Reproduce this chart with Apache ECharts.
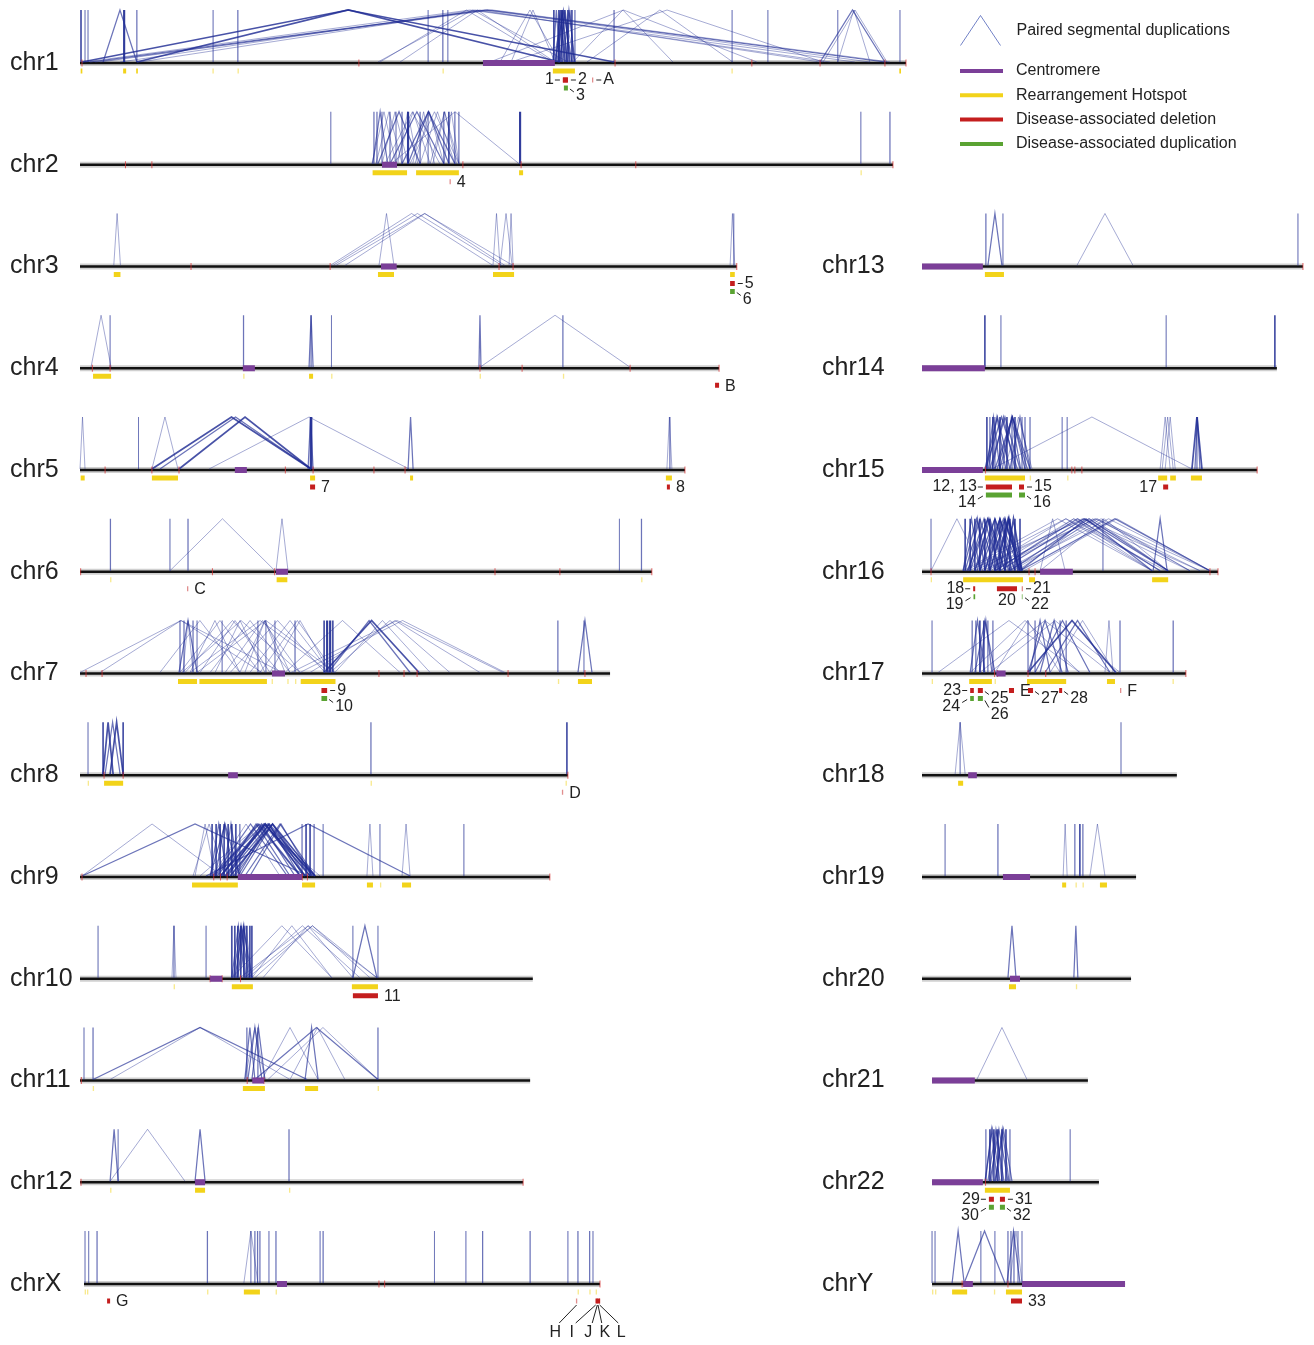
<!DOCTYPE html>
<html>
<head>
<meta charset="utf-8">
<title>Segmental duplications and rearrangement hotspots</title>
<script src="https://cdn.jsdelivr.net/npm/echarts@6/dist/echarts.min.js"></script>
<style>
  html, body { margin: 0; padding: 0; background: #fff; }
  #chart { width: 1314px; height: 1345px; }
</style>
</head>
<body>
<div id="chart"></div>
<script>
// chromosome layout, in Mb
const leftColumn = ['chr1', 'chr2', 'chr3', 'chr4', 'chr5', 'chr6', 'chr7', 'chr8', 'chr9', 'chr10', 'chr11', 'chr12', 'chrX'];
const rightColumn = ['chr13', 'chr14', 'chr15', 'chr16', 'chr17', 'chr18', 'chr19', 'chr20', 'chr21', 'chr22', 'chrY'];

const chromExtent = [
  ['chr1', 0, 247.0], ['chr2', 0, 243.1], ['chr3', 0, 196.4], ['chr4', 0, 191.1], ['chr5', 0, 180.9],
  ['chr6', 0, 171.0], ['chr7', 0, 158.5], ['chr8', 0, 145.9], ['chr9', 0, 140.5], ['chr10', 0, 135.4],
  ['chr11', 0, 134.6], ['chr12', 0, 132.5], ['chrX', 1.2, 155.5],
  ['chr13', 0, 113.9], ['chr14', 0, 106.1], ['chr15', 0, 100.2], ['chr16', 0, 88.5], ['chr17', 0, 78.9],
  ['chr18', 0, 76.2], ['chr19', 0, 64.0], ['chr20', 0, 62.5], ['chr21', 3.0, 49.6], ['chr22', 3.0, 52.9],
  ['chrY', 3.0, 60.7]
];

// [chrom, start, end, number of pairs drawn on top of each other]
const sdPairs = [
  ['chr1', 0.3, 0.3, 3], ['chr1', 1.5, 1.5, 1], ['chr1', 2.4, 2.4, 1], ['chr1', 13.2, 13.2, 4], ['chr1', 17.0, 17.0, 2],
  ['chr1', 39.8, 39.8, 1], ['chr1', 47.2, 47.2, 2], ['chr1', 104.1, 104.1, 1], ['chr1', 108.5, 108.5, 2], ['chr1', 110.0, 110.0, 1],
  ['chr1', 159.7, 159.7, 2], ['chr1', 195.0, 195.0, 1], ['chr1', 205.7, 205.7, 1], ['chr1', 226.6, 226.6, 1], ['chr1', 245.2, 245.2, 1],
  ['chr1', 6.9, 17.0, 2], ['chr1', 0.6, 159.7, 3], ['chr1', 17.0, 143.5, 3], ['chr1', 1.5, 231.7, 1], ['chr1', 3.0, 240.7, 2],
  ['chr1', 4.5, 242.2, 1], ['chr1', 6.0, 236.2, 1], ['chr1', 12.0, 224.3, 1], ['chr1', 17.9, 221.3, 1], ['chr1', 89.1, 145.9, 1],
  ['chr1', 125.6, 143.5, 1], ['chr1', 128.9, 142.0, 1], ['chr1', 95.7, 142.0, 1], ['chr1', 89.7, 141.4, 1], ['chr1', 122.6, 202.4, 1],
  ['chr1', 128.9, 222.2, 1], ['chr1', 147.4, 177.3, 1], ['chr1', 151.6, 195.2, 1], ['chr1', 221.3, 240.7, 2], ['chr1', 222.2, 241.3, 1],
  ['chr1', 226.6, 236.2, 1], ['chr1', 141.4, 143.5, 2], ['chr1', 142.3, 145.0, 3], ['chr1', 143.5, 146.5, 3], ['chr1', 144.4, 148.0, 2],
  ['chr1', 142.0, 147.1, 2], ['chr1', 142.9, 145.6, 3], ['chr1', 145.3, 147.7, 2], ['chr1', 141.4, 148.0, 1], ['chr1', 141.7, 141.7, 3],
  ['chr1', 143.2, 143.2, 3], ['chr1', 144.1, 144.1, 3], ['chr1', 145.9, 145.9, 3], ['chr1', 147.1, 147.1, 3], ['chr1', 148.0, 148.0, 2],

  ['chr2', 87.9, 87.9, 2], ['chr2', 88.8, 88.8, 2], ['chr2', 90.3, 90.3, 1], ['chr2', 92.7, 92.7, 2], ['chr2', 94.5, 94.5, 1],
  ['chr2', 96.3, 96.3, 2], ['chr2', 98.1, 98.1, 4], ['chr2', 101.7, 101.7, 2], ['chr2', 104.1, 104.1, 1], ['chr2', 108.8, 108.8, 2],
  ['chr2', 110.3, 110.3, 3], ['chr2', 112.1, 112.1, 2], ['chr2', 113.3, 113.3, 2], ['chr2', 75.0, 75.0, 1], ['chr2', 131.6, 131.6, 4],
  ['chr2', 233.5, 233.5, 1], ['chr2', 242.2, 242.2, 2], ['chr2', 87.3, 94.5, 1], ['chr2', 89.1, 101.7, 2], ['chr2', 90.3, 98.1, 1],
  ['chr2', 92.7, 108.8, 2], ['chr2', 94.5, 104.7, 1], ['chr2', 96.3, 112.1, 2], ['chr2', 98.1, 110.3, 2], ['chr2', 98.7, 113.3, 1],
  ['chr2', 91.2, 107.6, 1], ['chr2', 101.7, 112.1, 1], ['chr2', 100.2, 108.8, 1], ['chr2', 104.7, 113.3, 1], ['chr2', 93.0, 131.3, 1],
  ['chr2', 88.5, 96.3, 1], ['chr2', 108.8, 113.3, 1], ['chr2', 87.5, 92.0, 2], ['chr2', 95.0, 101.0, 1], ['chr2', 99.5, 106.0, 1],
  ['chr2', 105.5, 112.6, 1],

  ['chr3', 10.1, 12.1, 1], ['chr3', 74.8, 123.5, 1], ['chr3', 75.6, 126.2, 1], ['chr3', 76.5, 129.5, 1], ['chr3', 79.2, 127.1, 1],
  ['chr3', 89.4, 93.9, 1], ['chr3', 123.5, 125.6, 1], ['chr3', 125.6, 129.2, 1], ['chr3', 128.3, 129.5, 1], ['chr3', 194.4, 195.8, 1],
  ['chr3', 195.5, 195.5, 1],

  ['chr4', 3.3, 9.3, 1], ['chr4', 9.0, 9.0, 1], ['chr4', 48.9, 48.9, 2], ['chr4', 68.5, 69.7, 2], ['chr4', 69.1, 69.1, 2],
  ['chr4', 75.2, 75.2, 1], ['chr4', 119.3, 119.9, 2], ['chr4', 119.6, 164.5, 1], ['chr4', 144.4, 144.4, 2],

  ['chr5', 0, 1.5, 1], ['chr5', 17.5, 17.5, 1], ['chr5', 21.5, 29.3, 1], ['chr5', 21.5, 69.1, 3], ['chr5', 29.6, 69.1, 3],
  ['chr5', 23.9, 69.1, 2], ['chr5', 38.6, 98.4, 1], ['chr5', 69.1, 69.1, 5], ['chr5', 68.2, 69.7, 2], ['chr5', 98.1, 99.6, 2],
  ['chr5', 175.5, 177.0, 1], ['chr5', 176.4, 176.4, 2],

  ['chr6', 9.1, 9.1, 2], ['chr6', 26.9, 26.9, 1], ['chr6', 32.3, 32.3, 2], ['chr6', 26.9, 58.3, 1], ['chr6', 58.6, 62.2, 1],
  ['chr6', 161.3, 161.3, 1], ['chr6', 167.9, 167.9, 2],

  ['chr7', 0, 60.4, 1], ['chr7', 6.0, 54.4, 1], ['chr7', 30.5, 65.8, 1], ['chr7', 31.4, 59.8, 1], ['chr7', 32.9, 74.8, 1],
  ['chr7', 35.0, 76.2, 1], ['chr7', 38.9, 62.8, 1], ['chr7', 44.9, 73.3, 1], ['chr7', 50.8, 74.8, 1], ['chr7', 35.9, 56.8, 1],
  ['chr7', 53.8, 76.2, 1], ['chr7', 29.9, 53.8, 1], ['chr7', 56.8, 74.8, 1], ['chr7', 61.3, 95.7, 1], ['chr7', 63.1, 126.5, 1],
  ['chr7', 65.8, 127.1, 1], ['chr7', 73.0, 101.4, 3], ['chr7', 74.2, 98.7, 2], ['chr7', 76.2, 104.7, 1], ['chr7', 74.8, 110.6, 1],
  ['chr7', 68.8, 119.6, 1], ['chr7', 32.9, 47.8, 1], ['chr7', 47.8, 62.8, 1], ['chr7', 29.6, 35.0, 2], ['chr7', 30.8, 33.8, 1],
  ['chr7', 40.4, 55.3, 1], ['chr7', 43.4, 65.8, 1], ['chr7', 49.3, 61.3, 1], ['chr7', 23.9, 47.8, 1], ['chr7', 29.9, 29.9, 2],
  ['chr7', 31.1, 31.1, 2], ['chr7', 33.8, 33.8, 2], ['chr7', 35.0, 35.0, 1], ['chr7', 42.5, 42.5, 1], ['chr7', 53.2, 53.2, 1],
  ['chr7', 55.6, 55.6, 1], ['chr7', 58.3, 58.3, 1], ['chr7', 64.3, 64.3, 2], ['chr7', 73.0, 73.0, 3], ['chr7', 73.9, 73.9, 4],
  ['chr7', 74.8, 74.8, 4], ['chr7', 75.6, 75.6, 3], ['chr7', 142.9, 142.9, 2], ['chr7', 150.7, 150.7, 1], ['chr7', 148.9, 153.1, 2],

  ['chr8', 2.4, 2.4, 1], ['chr8', 6.9, 9.9, 3], ['chr8', 9.0, 12.9, 3], ['chr8', 7.5, 12.0, 2], ['chr8', 6.9, 6.9, 3],
  ['chr8', 12.9, 12.9, 3], ['chr8', 87.0, 87.0, 2], ['chr8', 145.6, 145.6, 3],

  ['chr9', 0.6, 42.5, 1], ['chr9', 0.6, 68.2, 2], ['chr9', 33.8, 43.4, 1], ['chr9', 34.4, 40.4, 1], ['chr9', 39.5, 39.5, 3],
  ['chr9', 40.7, 40.7, 3], ['chr9', 41.9, 41.9, 3], ['chr9', 43.1, 43.1, 3], ['chr9', 44.3, 44.3, 3], ['chr9', 45.4, 45.4, 3],
  ['chr9', 46.6, 46.6, 3], ['chr9', 47.8, 47.8, 2], ['chr9', 39.5, 70.3, 2], ['chr9', 40.4, 65.8, 2], ['chr9', 41.9, 68.8, 3],
  ['chr9', 43.4, 67.3, 3], ['chr9', 44.9, 70.3, 3], ['chr9', 47.2, 65.8, 2], ['chr9', 42.5, 62.8, 2], ['chr9', 46.3, 68.8, 2],
  ['chr9', 49.3, 70.3, 2], ['chr9', 39.5, 59.8, 1], ['chr9', 47.8, 67.3, 2], ['chr9', 50.8, 69.4, 2], ['chr9', 38.9, 47.8, 2],
  ['chr9', 44.3, 64.3, 2], ['chr9', 66.4, 66.4, 2], ['chr9', 67.6, 67.6, 3], ['chr9', 68.8, 68.8, 3], ['chr9', 70.0, 70.0, 2],
  ['chr9', 37.7, 98.7, 2], ['chr9', 35.9, 71.8, 1], ['chr9', 72.7, 72.7, 1], ['chr9', 85.8, 87.6, 1], ['chr9', 89.7, 89.7, 1],
  ['chr9', 96.3, 98.7, 1], ['chr9', 114.8, 114.8, 1], ['chr9', 40.0, 62.0, 2], ['chr9', 41.0, 66.0, 2], ['chr9', 42.0, 70.0, 2],
  ['chr9', 43.8, 69.5, 2], ['chr9', 45.9, 66.9, 2], ['chr9', 39.0, 44.0, 2], ['chr9', 40.5, 46.0, 2], ['chr9', 42.8, 47.5, 2],

  ['chr10', 5.4, 5.4, 1], ['chr10', 28.1, 28.1, 2], ['chr10', 37.7, 37.7, 1], ['chr10', 27.5, 28.7, 1], ['chr10', 45.4, 45.4, 3],
  ['chr10', 46.3, 46.3, 3], ['chr10', 47.2, 47.2, 3], ['chr10', 48.1, 48.1, 3], ['chr10', 49.0, 49.0, 3], ['chr10', 49.9, 49.9, 3],
  ['chr10', 50.8, 50.8, 3], ['chr10', 51.4, 51.4, 3], ['chr10', 45.4, 49.3, 2], ['chr10', 46.3, 51.4, 2], ['chr10', 47.2, 50.8, 2],
  ['chr10', 47.8, 51.4, 1], ['chr10', 45.4, 75.3, 1], ['chr10', 51.4, 75.3, 1], ['chr10', 47.8, 88.8, 1], ['chr10', 50.2, 88.8, 1],
  ['chr10', 54.7, 81.6, 1], ['chr10', 49.3, 83.7, 1], ['chr10', 52.3, 86.7, 1], ['chr10', 81.6, 88.8, 2], ['chr10', 81.6, 81.6, 1],
  ['chr10', 89.1, 89.1, 1], ['chr10', 45.8, 50.5, 2], ['chr10', 46.8, 49.6, 2],

  ['chr11', 1.2, 1.2, 1], ['chr11', 3.9, 3.9, 2], ['chr11', 3.9, 67.9, 2], ['chr11', 9.0, 62.8, 1], ['chr11', 49.3, 52.3, 2],
  ['chr11', 50.2, 54.4, 2], ['chr11', 51.4, 55.3, 2], ['chr11', 49.3, 55.3, 1], ['chr11', 49.9, 49.9, 2], ['chr11', 53.2, 53.2, 2],
  ['chr11', 52.3, 89.1, 2], ['chr11', 56.2, 89.1, 1], ['chr11', 62.8, 79.2, 1], ['chr11', 67.3, 71.2, 2], ['chr11', 89.1, 89.1, 2],
  ['chr11', 54.4, 71.2, 1],

  ['chr12', 9.0, 11.4, 2], ['chr12', 11.4, 11.4, 1], ['chr12', 9.0, 31.4, 1], ['chr12', 34.4, 37.4, 2], ['chr12', 62.5, 62.5, 2],

  ['chrX', 1.5, 1.5, 1], ['chrX', 2.6, 2.6, 1], ['chrX', 5.1, 5.1, 2], ['chrX', 38.1, 38.1, 2], ['chrX', 49.0, 53.2, 1],
  ['chrX', 51.1, 51.1, 1], ['chrX', 52.3, 52.3, 2], ['chrX', 53.1, 53.1, 2], ['chrX', 53.8, 53.8, 2], ['chrX', 56.5, 56.5, 1],
  ['chrX', 58.6, 58.6, 2], ['chrX', 71.8, 71.8, 1], ['chrX', 72.7, 72.7, 2], ['chrX', 106.0, 106.0, 1], ['chrX', 115.4, 115.4, 1],
  ['chrX', 120.4, 120.4, 2], ['chrX', 134.6, 134.6, 2], ['chrX', 145.9, 145.9, 1], ['chrX', 148.9, 148.9, 2], ['chrX', 152.4, 152.4, 2],
  ['chrX', 153.4, 153.4, 1],

  ['chr13', 19.7, 23.9, 2], ['chr13', 19.1, 19.1, 2], ['chr13', 24.2, 24.2, 1], ['chr13', 46.3, 63.1, 1], ['chr13', 112.4, 112.4, 1],

  ['chr14', 18.8, 18.8, 3], ['chr14', 23.6, 23.6, 1], ['chr14', 73.0, 73.0, 1], ['chr14', 105.5, 105.5, 3],

  ['chr15', 19.4, 19.4, 3], ['chr15', 20.3, 20.3, 2], ['chr15', 21.2, 21.2, 3], ['chr15', 21.8, 21.8, 2], ['chr15', 23.3, 23.3, 3],
  ['chr15', 25.4, 25.4, 3], ['chr15', 26.9, 26.9, 2], ['chr15', 27.8, 27.8, 3], ['chr15', 29.9, 29.9, 2], ['chr15', 30.8, 30.8, 2],
  ['chr15', 32.3, 32.3, 2], ['chr15', 18.8, 26.3, 2], ['chr15', 20.3, 29.3, 2], ['chr15', 21.8, 32.3, 2], ['chr15', 23.3, 30.8, 2],
  ['chr15', 24.8, 32.9, 1], ['chr15', 19.4, 23.3, 2], ['chr15', 26.3, 32.3, 2], ['chr15', 20.9, 27.8, 2], ['chr15', 41.9, 41.9, 1],
  ['chr15', 43.4, 43.4, 1], ['chr15', 20.9, 80.7, 1], ['chr15', 71.2, 74.2, 1], ['chr15', 72.7, 75.7, 1], ['chr15', 71.8, 75.1, 1],
  ['chr15', 80.7, 83.7, 3], ['chr15', 81.6, 83.1, 2], ['chr15', 82.2, 82.2, 2], ['chr15', 19.0, 28.5, 2], ['chr15', 22.5, 31.5, 2],
  ['chr15', 24.0, 29.5, 2], ['chr15', 19.8, 25.0, 2],

  ['chr16', 2.7, 2.7, 1], ['chr16', 2.7, 18.2, 1], ['chr16', 12.9, 12.9, 3], ['chr16', 14.4, 14.4, 3], ['chr16', 15.8, 15.8, 3],
  ['chr16', 17.3, 17.3, 3], ['chr16', 18.8, 18.8, 3], ['chr16', 20.3, 20.3, 3], ['chr16', 21.8, 21.8, 3], ['chr16', 23.3, 23.3, 3],
  ['chr16', 24.8, 24.8, 3], ['chr16', 26.3, 26.3, 3], ['chr16', 27.8, 27.8, 3], ['chr16', 29.3, 29.3, 3], ['chr16', 12.3, 20.3, 2],
  ['chr16', 13.8, 23.3, 2], ['chr16', 15.8, 24.8, 2], ['chr16', 18.8, 27.8, 2], ['chr16', 20.3, 29.3, 3], ['chr16', 21.8, 29.9, 3],
  ['chr16', 23.3, 28.7, 3], ['chr16', 14.4, 18.8, 2], ['chr16', 17.3, 26.3, 2], ['chr16', 24.8, 29.9, 3], ['chr16', 12.3, 68.8, 1],
  ['chr16', 17.3, 68.8, 1], ['chr16', 23.3, 73.6, 2], ['chr16', 26.3, 73.6, 2], ['chr16', 29.3, 86.1, 2], ['chr16', 15.8, 80.1, 1],
  ['chr16', 20.3, 83.1, 1], ['chr16', 29.3, 68.8, 2], ['chr16', 35.3, 73.6, 1], ['chr16', 30.5, 86.1, 1], ['chr16', 21.8, 71.2, 2],
  ['chr16', 24.8, 80.1, 1], ['chr16', 54.1, 54.1, 1], ['chr16', 69.1, 73.3, 2], ['chr16', 35.3, 42.8, 1], ['chr16', 12.9, 21.8, 2],
  ['chr16', 14.4, 24.8, 2], ['chr16', 15.8, 27.8, 2], ['chr16', 17.3, 29.3, 2], ['chr16', 18.8, 29.9, 2], ['chr16', 12.3, 17.3, 2],
  ['chr16', 19.7, 26.9, 2], ['chr16', 22.4, 29.0, 2], ['chr16', 13.5, 26.0, 2], ['chr16', 16.5, 23.0, 2], ['chr16', 13.0, 73.0, 1],
  ['chr16', 18.0, 86.1, 1], ['chr16', 22.0, 68.8, 1], ['chr16', 27.0, 80.1, 1], ['chr16', 25.5, 86.1, 1], ['chr16', 28.5, 73.6, 1],
  ['chr16', 19.5, 71.2, 1], ['chr16', 14.0, 83.1, 1],

  ['chr17', 3.0, 3.0, 1], ['chr17', 4.8, 47.2, 1], ['chr17', 15.0, 15.0, 2], ['chr17', 16.1, 16.1, 2], ['chr17', 17.3, 17.3, 3],
  ['chr17', 18.5, 18.5, 3], ['chr17', 19.7, 19.7, 2], ['chr17', 21.2, 21.2, 2], ['chr17', 14.4, 18.8, 2], ['chr17', 15.8, 21.8, 2],
  ['chr17', 17.3, 20.9, 2], ['chr17', 31.7, 58.0, 3], ['chr17', 33.8, 50.2, 2], ['chr17', 17.3, 56.2, 1], ['chr17', 20.3, 59.2, 1],
  ['chr17', 14.4, 47.2, 1], ['chr17', 21.8, 41.3, 1], ['chr17', 31.7, 41.9, 2], ['chr17', 35.3, 43.7, 2], ['chr17', 32.3, 38.3, 2],
  ['chr17', 36.8, 56.2, 2], ['chr17', 38.3, 57.7, 1], ['chr17', 31.7, 31.7, 2], ['chr17', 33.8, 33.8, 2], ['chr17', 41.3, 41.3, 2],
  ['chr17', 43.1, 43.1, 2], ['chr17', 54.7, 57.1, 1], ['chr17', 59.2, 59.2, 2], ['chr17', 75.1, 75.1, 2],

  ['chr18', 9.9, 12.9, 1], ['chr18', 11.4, 11.4, 1], ['chr18', 59.5, 59.5, 1],

  ['chr19', 6.9, 6.9, 1], ['chr19', 22.7, 22.7, 2], ['chr19', 42.2, 43.4, 1], ['chr19', 45.7, 45.7, 2], ['chr19', 47.2, 47.2, 3],
  ['chr19', 48.1, 48.1, 2], ['chr19', 50.2, 54.7, 1],

  ['chr20', 25.7, 28.1, 2], ['chr20', 45.4, 46.6, 2],

  ['chr21', 16.4, 31.4, 1],

  ['chr22', 19.1, 19.1, 2], ['chr22', 20.3, 20.3, 3], ['chr22', 21.5, 21.5, 3], ['chr22', 22.7, 22.7, 3], ['chr22', 23.9, 23.9, 3],
  ['chr22', 25.1, 25.1, 3], ['chr22', 26.3, 26.3, 2], ['chr22', 18.8, 23.3, 2], ['chr22', 20.3, 25.7, 2], ['chr22', 21.8, 26.9, 2],
  ['chr22', 19.7, 24.5, 2], ['chr22', 44.3, 44.3, 1], ['chr22', 19.0, 22.5, 2], ['chr22', 22.0, 26.0, 2], ['chr22', 20.8, 23.9, 2],

  ['chrY', 3.0, 3.0, 1], ['chrY', 3.9, 3.9, 1], ['chrY', 9.0, 12.6, 2], ['chrY', 12.6, 24.8, 2], ['chrY', 17.6, 17.6, 1],
  ['chrY', 21.8, 21.8, 1], ['chrY', 25.7, 25.7, 2], ['chrY', 26.6, 26.6, 2], ['chrY', 27.5, 27.5, 2], ['chrY', 28.7, 28.7, 1],
  ['chrY', 29.9, 29.9, 1], ['chrY', 25.4, 29.3, 2], ['chrY', 26.3, 29.9, 1]
];

const centromeres = [
  ['chr1', 120.5, 142.0], ['chr2', 90.3, 94.8], ['chr3', 90.0, 94.7], ['chr4', 48.7, 52.3], ['chr5', 46.3, 49.9],
  ['chr6', 58.6, 62.2], ['chr7', 57.4, 61.3], ['chr8', 44.3, 47.2], ['chr9', 47.2, 66.4], ['chr10', 38.9, 42.5],
  ['chr11', 51.5, 55.0], ['chr12', 34.4, 37.4], ['chrX', 58.9, 61.9], ['chr13', 0, 18.2], ['chr14', 0, 18.8],
  ['chr15', 0, 18.2], ['chr16', 35.3, 45.1], ['chr17', 22.2, 25.0], ['chr18', 13.8, 16.4], ['chr19', 24.2, 32.3],
  ['chr20', 26.3, 29.3], ['chr21', 3.0, 15.8], ['chr22', 3.0, 18.2], ['chrY', 12.3, 15.2], ['chrY', 29.9, 60.7]
];

const hotspots = [
  ['chr1', 0.2, 0.7], ['chr1', 12.9, 13.8], ['chr1', 16.8, 17.3], ['chr1', 39.6, 40.0], ['chr1', 47.1, 47.5],
  ['chr1', 108.4, 108.8], ['chr1', 141.4, 148.0], ['chr1', 194.8, 195.2], ['chr1', 245.0, 245.5],
  ['chr2', 87.5, 97.8], ['chr2', 100.5, 113.3], ['chr2', 131.3, 132.5], ['chr2', 233.4, 233.7],
  ['chr3', 10.1, 12.1], ['chr3', 89.1, 93.9], ['chr3', 123.5, 129.8], ['chr3', 194.4, 195.8],
  ['chr4', 3.9, 9.3], ['chr4', 48.8, 49.2], ['chr4', 68.5, 69.7], ['chr4', 75.1, 75.4], ['chr4', 119.5, 119.9], ['chr4', 144.4, 144.7],
  ['chr5', 0.2, 1.4], ['chr5', 21.5, 29.3], ['chr5', 68.8, 70.3], ['chr5', 98.7, 99.6], ['chr5', 175.2, 177.0],
  ['chr6', 9.0, 9.3], ['chr6', 58.8, 62.0], ['chr6', 167.8, 168.1],
  ['chr7', 29.3, 35.0], ['chr7', 35.7, 55.9], ['chr7', 57.3, 57.6], ['chr7', 62.0, 62.3], ['chr7', 64.3, 64.6],
  ['chr7', 66.0, 76.4], ['chr7', 142.9, 143.3], ['chr7', 148.9, 153.1],
  ['chr8', 2.3, 2.6], ['chr8', 7.2, 12.9], ['chr8', 86.9, 87.2], ['chr8', 145.2, 145.5],
  ['chr9', 33.5, 47.2], ['chr9', 66.4, 70.3], ['chr9', 85.8, 87.6], ['chr9', 89.7, 90.0], ['chr9', 96.3, 99.0],
  ['chr10', 28.0, 28.4], ['chr10', 45.4, 51.7], ['chr10', 81.3, 89.1],
  ['chr11', 3.8, 4.2], ['chr11', 48.7, 55.3], ['chr11', 67.3, 71.2], ['chr11', 89.0, 89.4],
  ['chr12', 9.0, 9.4], ['chr12', 34.4, 37.4], ['chr12', 62.5, 62.8],
  ['chrX', 1.4, 1.7], ['chrX', 2.1, 2.4], ['chrX', 38.0, 38.3], ['chrX', 49.0, 53.8], ['chrX', 58.5, 58.8],
  ['chrX', 148.8, 149.1], ['chrX', 152.3, 152.6], ['chrX', 154.2, 154.5],
  ['chr13', 18.8, 24.5],
  ['chr15', 18.8, 30.8], ['chr15', 32.2, 32.6], ['chr15', 43.4, 43.7], ['chr15', 70.6, 73.3], ['chr15', 74.2, 75.9], ['chr15', 80.4, 83.7],
  ['chr16', 2.6, 2.9], ['chr16', 12.3, 30.2], ['chr16', 32.0, 33.8], ['chr16', 68.8, 73.6],
  ['chr17', 2.9, 3.2], ['chr17', 14.1, 20.9], ['chr17', 21.7, 22.1], ['chr17', 31.4, 43.1], ['chr17', 55.3, 57.7], ['chr17', 74.9, 75.2],
  ['chr18', 10.8, 12.3],
  ['chr19', 41.9, 43.1], ['chr19', 45.9, 46.2], ['chr19', 48.0, 48.3], ['chr19', 53.2, 55.3],
  ['chr20', 26.0, 28.1], ['chr20', 46.0, 46.3],
  ['chr22', 18.8, 26.3],
  ['chrY', 3.0, 3.2], ['chrY', 3.9, 4.1], ['chrY', 9.0, 13.5], ['chrY', 21.5, 21.8], ['chrY', 25.1, 29.9]
];

// [chrom, start, end, label, label placement]
const deletions = [
  ['chr1', 144.4, 145.9, '1', 'l'], ['chr1', 144.4, 145.9, '2', 'r'], ['chr1', 153.1, 153.4, 'A', 'r'],
  ['chr2', 110.5, 110.8, '4', 'rn'],
  ['chr3', 194.4, 195.8, '5', 'r'],
  ['chr4', 189.9, 191.1, 'B', 'rn'],
  ['chr5', 68.8, 70.3, '7', 'rn'], ['chr5', 175.5, 176.4, '8', 'rn'],
  ['chr6', 32.0, 32.3, 'C', 'rn'],
  ['chr7', 72.2, 73.9, '9', 'r'],
  ['chr8', 144.1, 144.4, 'D', 'rn'],
  ['chr10', 81.6, 89.1, '11', 'rn'],
  ['chrX', 8.1, 9.0, 'G', 'rn'], ['chrX', 148.3, 148.6, 'H', 'f'], ['chrX', 154.0, 154.2, 'I', 'f'],
  ['chrX', 154.5, 154.7, 'J', 'f'], ['chrX', 155.2, 155.4, 'L', 'f'], ['chrX', 154.3, 155.5, 'K', 'f'],
  ['chr15', 19.1, 26.9, '12, 13', 'l'], ['chr15', 29.0, 30.5, '15', 'r'], ['chr15', 72.1, 73.6, '17', 'ln'],
  ['chr16', 15.3, 15.9, '18', 'l'], ['chr16', 22.4, 28.4, '20', 'b'], ['chr16', 29.8, 30.2, '21', 'r'],
  ['chr17', 14.4, 15.5, '23', 'l'], ['chr17', 16.7, 18.2, '25', 'rd'], ['chr17', 26.0, 27.5, 'E', 'rn'],
  ['chr17', 31.7, 33.2, '27', 'rd'], ['chr17', 41.0, 41.9, '28', 'rd'], ['chr17', 59.2, 59.5, 'F', 'rn'],
  ['chr22', 20.0, 21.5, '29', 'l'], ['chr22', 23.3, 24.8, '31', 'r'],
  ['chrY', 26.6, 29.9, '33', 'rn']
];

const duplications = [
  ['chr1', 144.7, 145.9, '3', 'rd'], ['chr3', 194.4, 195.8, '6', 'rd'], ['chr7', 72.2, 73.9, '10', 'rd'],
  ['chr15', 19.1, 26.9, '14', 'ld'], ['chr15', 29.0, 30.8, '16', 'rd'],
  ['chr16', 15.4, 15.9, '19', 'ld'], ['chr16', 29.8, 30.2, '22', 'rd'],
  ['chr17', 14.4, 15.5, '24', 'ld'], ['chr17', 16.7, 18.2, '26', 'rdd'],
  ['chr22', 20.0, 21.5, '30', 'ld'], ['chr22', 23.3, 24.8, '32', 'rd']
];

// assembly gaps / small marks on the chromosome line
const gapTicks = [
  ['chr1', 0.6], ['chr1', 83.4], ['chr1', 160.0], ['chr1', 200.9], ['chr1', 221.3], ['chr1', 240.7], ['chr1', 247.0],
  ['chr2', 13.6], ['chr2', 21.5], ['chr2', 114.5], ['chr2', 131.9], ['chr2', 166.2], ['chr2', 243.1],
  ['chr3', 33.2], ['chr3', 74.8], ['chr3', 125.3], ['chr3', 129.5], ['chr3', 196.4],
  ['chr4', 3.7], ['chr4', 9.0], ['chr4', 119.6], ['chr4', 132.2], ['chr4', 164.5], ['chr4', 191.1],
  ['chr5', 7.5], ['chr5', 21.5], ['chr5', 29.6], ['chr5', 61.4], ['chr5', 69.7], ['chr5', 87.9], ['chr5', 97.2], ['chr5', 180.9],
  ['chr6', 0.2], ['chr6', 39.6], ['chr6', 58.2], ['chr6', 124.1], ['chr6', 143.5], ['chr6', 171.0],
  ['chr7', 1.8], ['chr7', 6.6], ['chr7', 89.4], ['chr7', 96.9], ['chr7', 100.8], ['chr7', 128.0], ['chr7', 151.0],
  ['chr8', 7.2], ['chr8', 12.9], ['chr8', 145.9],
  ['chr9', 0.6], ['chr9', 40.0], ['chr9', 42.0], ['chr9', 44.0], ['chr9', 66.5], ['chr9', 68.0], ['chr9', 140.5],
  ['chr10', 38.9], ['chr10', 42.5], ['chr10', 48.0],
  ['chr11', 0.4], ['chr11', 50.0], ['chr11', 55.0],
  ['chr12', 0.3], ['chr12', 132.5],
  ['chrX', 89.4], ['chrX', 91.1], ['chrX', 155.5],
  ['chr13', 113.9],
  ['chr15', 19.0], ['chr15', 44.8], ['chr15', 45.7], ['chr15', 47.8], ['chr15', 100.2],
  ['chr16', 2.7], ['chr16', 32.0], ['chr16', 33.8], ['chr16', 86.1], ['chr16', 88.5],
  ['chr17', 21.7], ['chr17', 22.6], ['chr17', 31.7], ['chr17', 37.0], ['chr17', 78.9],
  ['chr22', 19.0],
  ['chrY', 12.0], ['chrY', 25.7]
];

const legendNames = ['Paired segmental duplications', 'Centromere', 'Rearrangement Hotspot',
  'Disease-associated deletion', 'Disease-associated duplication'];

// ---- drawing ----
const FONT = '"Liberation Sans", Arial, Helvetica, sans-serif';
const COLOR = {
  sd: '32,44,148', centromere: '#7b3f98', hotspot: '#f2d31a',
  deletion: '#c41e1e', duplication: '#5aa332', gap: '#d83030', text: '#222'
};
const SD_HEIGHT = 53;
const LANE_Y = [8, 17, 25]; // hotspot, deletion, duplication offsets below the line

const chromPlace = {};
leftColumn.forEach((c, i) => { chromPlace[c] = [0, i]; });
rightColumn.forEach((c, i) => { chromPlace[c] = [1, i]; });

// fan labels (several events sharing one crowded spot)
const fanInfo = {};
deletions.filter(d => d[4] === 'f').forEach(d => {
  (fanInfo[d[0]] = fanInfo[d[0]] || []).push(d);
});
Object.keys(fanInfo).forEach(k => fanInfo[k].sort((a, b) => (a[1] + a[2]) - (b[1] + b[2])));

function makeSeries(name, rows, g, draw, z, color) {
  const items = rows.filter(r => chromPlace[r[0]][0] === g);
  return {
    type: 'custom', name, xAxisIndex: g, yAxisIndex: g, silent: true, z,
    itemStyle: color ? { color } : undefined,
    data: items.map(r => [chromPlace[r[0]][1], r[1], typeof r[2] === 'number' ? r[2] : r[1]]),
    encode: { x: [1, 2], y: 0 },
    renderItem: (params, api) => {
      const r = items[params.dataIndex];
      return draw(r, chromPlace[r[0]][1], api);
    }
  };
}

function drawChrom(r, row, api) {
  const p1 = api.coord([r[1], row]), p2 = api.coord([r[2], row]);
  const shape = { x1: p1[0], y1: p1[1], x2: p2[0], y2: p2[1] };
  return {
    type: 'group', children: [
      { type: 'line', shape, style: { stroke: 'rgba(150,150,150,0.45)', lineWidth: 6 } },
      { type: 'line', shape, style: { stroke: '#111', lineWidth: 2.6 } }
    ]
  };
}

function drawPair(r, row, api) {
  const n = r[3];
  const p1 = api.coord([r[1], row]), p2 = api.coord([r[2], row]);
  const y0 = p1[1] - 1;
  const alpha = Math.min(0.92, 0.5 + 0.16 * (n - 1));
  return {
    type: 'polyline',
    shape: { points: [[p1[0], y0], [(p1[0] + p2[0]) / 2, p1[1] - SD_HEIGHT], [p2[0], y0]] },
    style: { stroke: `rgba(${COLOR.sd},${alpha})`, lineWidth: 0.8 + 0.45 * (n - 1), fill: null }
  };
}

function drawCentromere(r, row, api) {
  const p1 = api.coord([r[1], row]), p2 = api.coord([r[2], row]);
  return {
    type: 'rect', shape: { x: p1[0], y: p1[1] - 3, width: Math.max(p2[0] - p1[0], 1.5), height: 6 },
    style: { fill: COLOR.centromere }
  };
}

function drawGap(r, row, api) {
  const p = api.coord([r[1], row]);
  return {
    type: 'line', shape: { x1: p[0], y1: p[1] - 3.5, x2: p[0], y2: p[1] + 3.5 },
    style: { stroke: COLOR.gap, lineWidth: 1, opacity: 0.75 }
  };
}

function bar(p1, p2, y, color) {
  const w = p2[0] - p1[0];
  return {
    type: 'rect', shape: { x: p1[0], y: y - 2.5, width: Math.max(w, 1.3), height: 5 },
    style: { fill: color, opacity: w < 1.5 ? 0.5 : 1 }
  };
}

function drawHotspot(r, row, api) {
  const p1 = api.coord([r[1], row]), p2 = api.coord([r[2], row]);
  return bar(p1, p2, p1[1] + LANE_Y[0], COLOR.hotspot);
}

function labelParts(r, x1, x2, y, base) {
  const parts = [];
  const leader = pts => parts.push({ type: 'polyline', shape: { points: pts }, style: { stroke: COLOR.text, lineWidth: 1, fill: null } });
  const txt = (x, yy, align) => parts.push({
    type: 'text', x, y: yy,
    style: { text: r[3], fill: COLOR.text, font: '16px ' + FONT, align, verticalAlign: 'middle' }
  });
  switch (r[4]) {
    case 'r': leader([[x2 + 3, y], [x2 + 8, y]]); txt(x2 + 10, y, 'left'); break;
    case 'l': leader([[x1 - 8, y], [x1 - 3, y]]); txt(x1 - 9, y, 'right'); break;
    case 'rd': leader([[x2 + 2, y + 1], [x2 + 6, y + 4]]); txt(x2 + 8, y + 8, 'left'); break;
    case 'rdd': leader([[x2 + 2, y + 2], [x2 + 6, y + 9]]); txt(x2 + 8, y + 16, 'left'); break;
    case 'ld': leader([[x1 - 3, y + 1], [x1 - 8, y + 4]]); txt(x1 - 10, y + 8, 'right'); break;
    case 'rn': txt(x2 + 6, y + 1, 'left'); break;
    case 'ln': txt(x1 - 6, y + 1, 'right'); break;
    case 'b': txt((x1 + x2) / 2, y + 12, 'center'); break;
    case 'f': {
      const fan = fanInfo[r[0]];
      const idx = fan.indexOf(r);
      const ax = (x1 + x2) / 2;
      const mean = fan.reduce((s, d) => s + d[1] + d[2], 0) / (2 * fan.length);
      const p0 = base.api.coord([mean, base.row]);
      const tx = p0[0] - 5 + (idx - (fan.length - 1) / 2) * 16.5;
      const ty = y + 32;
      leader([[tx + (ax > tx ? 4 : -3), ty - 10], [ax, y + 4]]);
      txt(tx, ty, 'center');
      break;
    }
  }
  return parts;
}

function drawEvent(lane, color) {
  return (r, row, api) => {
    const p1 = api.coord([r[1], row]), p2 = api.coord([r[2], row]);
    const y = p1[1] + LANE_Y[lane];
    const children = [bar(p1, p2, y, color)];
    if (r[3]) children.push(...labelParts(r, p1[0], Math.max(p2[0], p1[0] + 1.3), y, { api, row }));
    return { type: 'group', children };
  };
}

const series = [];
[0, 1].forEach(g => {
  series.push(makeSeries('chromosome', chromExtent, g, drawChrom, 1));
  series.push(makeSeries(legendNames[0], sdPairs, g, drawPair, 2, `rgb(${COLOR.sd})`));
  series.push(makeSeries('gap', gapTicks, g, drawGap, 3));
  series.push(makeSeries(legendNames[1], centromeres, g, drawCentromere, 4, COLOR.centromere));
  series.push(makeSeries(legendNames[2], hotspots, g, drawHotspot, 5, COLOR.hotspot));
  series.push(makeSeries(legendNames[3], deletions, g, drawEvent(1, COLOR.deletion), 6, COLOR.deletion));
  series.push(makeSeries(legendNames[4], duplications, g, drawEvent(2, COLOR.duplication), 6, COLOR.duplication));
});

const ROW = 101.75;
const chart = echarts.init(document.getElementById('chart'));
chart.setOption({
  animation: false,
  backgroundColor: '#fff',
  grid: [
    { left: 80, top: 63 - ROW / 2, width: 826, height: ROW * leftColumn.length },
    { left: 922, top: 63 - ROW / 2 + 2 * ROW, width: 392, height: ROW * rightColumn.length }
  ],
  xAxis: [
    { type: 'value', gridIndex: 0, min: 0, max: 247.0, show: false },
    { type: 'value', gridIndex: 1, min: 0, max: 117.2, show: false }
  ],
  yAxis: [leftColumn, rightColumn].map((cols, g) => ({
    type: 'category', gridIndex: g, data: cols, inverse: true,
    axisLine: { show: false }, axisTick: { show: false }, splitLine: { show: false },
    axisLabel: { align: 'left', margin: g === 0 ? 70 : 100, fontSize: 25, color: COLOR.text, fontFamily: FONT, padding: [0, 0, 6, 0] }
  })),
  legend: [
    {
      left: 960, top: 15, padding: 0, orient: 'vertical', selectedMode: false,
      itemWidth: 40, itemHeight: 30,
      textStyle: { fontSize: 16, fontFamily: FONT, color: COLOR.text, padding: [6, 0, 0, 11] },
      data: [{
        name: legendNames[0], icon: 'path://M0,30 L20,0 L40,30',
        itemStyle: { color: 'rgba(0,0,0,0)', borderColor: 'rgba(80,100,185,0.8)', borderWidth: 1 }
      }]
    },
    {
      left: 960, top: 62, padding: 0, orient: 'vertical', selectedMode: false,
      itemWidth: 43, itemHeight: 4, itemGap: 6.3,
      textStyle: { fontSize: 16, fontFamily: FONT, color: COLOR.text, lineHeight: 18, padding: [0, 0, 0, 8] },
      data: [
        { name: legendNames[1], icon: 'rect', itemStyle: { color: COLOR.centromere } },
        { name: legendNames[2], icon: 'rect', itemStyle: { color: COLOR.hotspot } },
        { name: legendNames[3], icon: 'rect', itemStyle: { color: COLOR.deletion } },
        { name: legendNames[4], icon: 'rect', itemStyle: { color: COLOR.duplication } }
      ]
    }
  ],
  series
});
</script>
</body>
</html>
